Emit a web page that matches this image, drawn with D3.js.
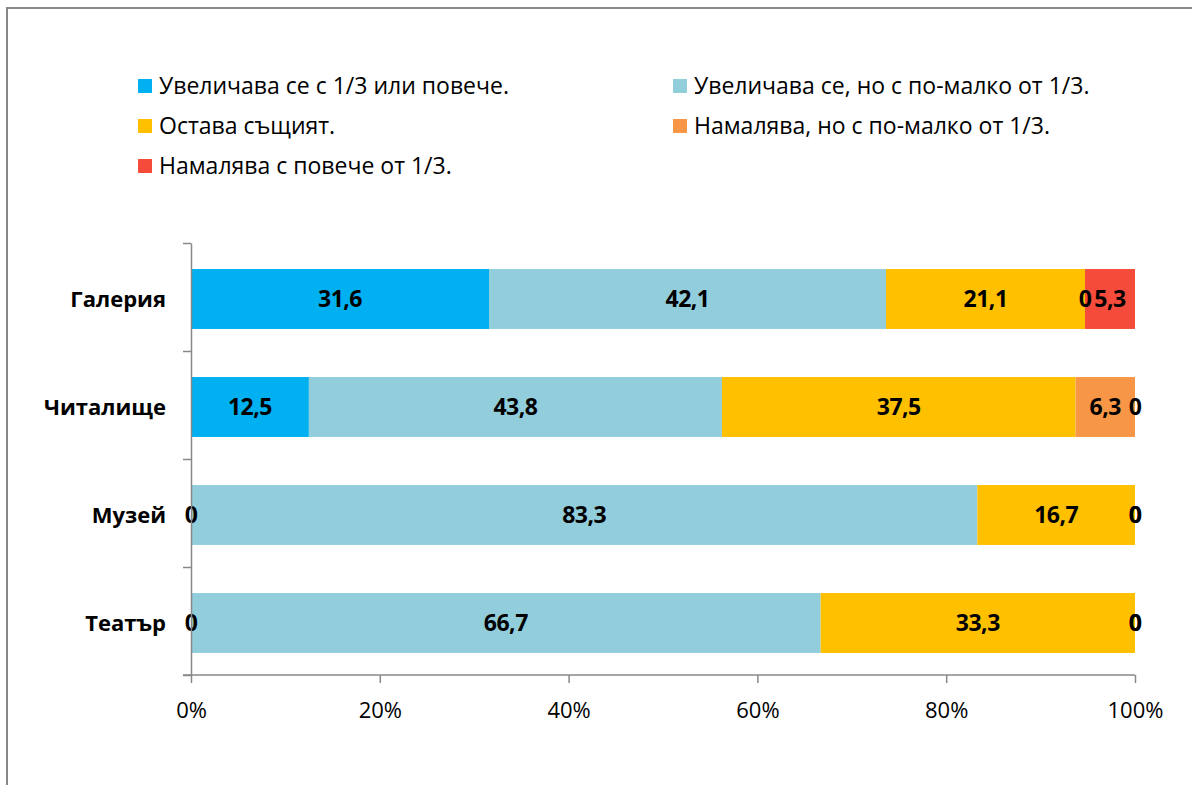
<!DOCTYPE html>
<html>
<head>
<meta charset="utf-8">
<script src="https://cdn.jsdelivr.net/npm/d3@7"></script>
<style>
  body { margin: 0; background: #fff; }
  svg { display: block; font-family: "Open Sans", sans-serif; }
  .axis path, .axis line { stroke: #888; stroke-width: 1.5; }
</style>
</head>
<body>
<svg id="chart" width="1192" height="785"></svg>
<script>
const categories = ["Галерия", "Читалище", "Музей", "Театър"];
const seriesNames = [
  "Увеличава се с 1/3 или повече.",
  "Увеличава се, но с по-малко от 1/3.",
  "Остава същият.",
  "Намалява, но с по-малко от 1/3.",
  "Намалява с повече от 1/3."
];
const seriesColors = ["#00b0f0", "#92cddc", "#ffc000", "#f79646", "#f44b3b"];
// values per series, in category order
const increaseBig = [31.6, 12.5, 0, 0];
const increaseSmall = [42.1, 43.8, 83.3, 66.7];
const same = [21.1, 37.5, 16.7, 33.3];
const decreaseSmall = [0, 6.3, 0, 0];
const decreaseBig = [5.3, 0, 0, 0];
const xTicks = [0, 0.2, 0.4, 0.6, 0.8, 1];

const seriesValues = [increaseBig, increaseSmall, same, decreaseSmall, decreaseBig];
const keys = seriesNames.map((d, i) => "s" + i);
const table = categories.map((c, j) => {
  const row = { category: c };
  keys.forEach((k, i) => (row[k] = seriesValues[i][j]));
  return row;
});

const svg = d3.select("#chart");

// outer frame (cropped at right and bottom)
svg.append("rect")
  .attr("x", 7).attr("y", 8)
  .attr("width", 1200).attr("height", 800)
  .attr("fill", "none").attr("stroke", "#888").attr("stroke-width", 2);

const x = d3.scaleLinear().domain([0, 1]).range([191, 1135]);
const y = d3.scaleBand().domain(categories).range([245, 677]).paddingInner(0.445).paddingOuter(0.2225);
const yEdge = d3.scaleLinear().domain([0, categories.length]).range([243, 675]);

const stacked = d3.stack().keys(keys).offset(d3.stackOffsetExpand)(table);

// legend
const legend = svg.append("g").attr("class", "legend");
const legendPos = [
  [138, 79], [673, 79],
  [138, 119], [673, 119],
  [138, 159]
];
seriesNames.forEach((name, i) => {
  const g = legend.append("g").attr("transform", `translate(${legendPos[i][0]},${legendPos[i][1]})`);
  g.append("rect").attr("width", 14).attr("height", 14).attr("fill", seriesColors[i]);
  g.append("text")
    .attr("x", 21).attr("y", 7).attr("dy", "0.36em")
    .attr("font-size", 23).attr("fill", "#000")
    .text(name);
});

// bars
const layers = svg.append("g").selectAll("g")
  .data(stacked)
  .join("g")
  .attr("fill", (d, i) => seriesColors[i]);

layers.selectAll("rect")
  .data(d => d)
  .join("rect")
  .attr("x", d => x(d[0]))
  .attr("y", d => y(d.data.category))
  .attr("width", d => x(d[1]) - x(d[0]))
  .attr("height", y.bandwidth());

// data labels
const labelFmt = v => String(v).replace(".", ",");
stacked.forEach((layer, i) => {
  svg.append("g").selectAll("text")
    .data(layer)
    .join("text")
    .attr("x", d => x((d[0] + d[1]) / 2))
    .attr("y", d => y(d.data.category) + y.bandwidth() / 2)
    .attr("dy", "0.36em")
    .attr("text-anchor", "middle")
    .attr("font-size", 23)
    .attr("font-weight", "bold")
    .attr("letter-spacing", -0.5)
    .attr("fill", "#000")
    .text(d => labelFmt(d.data[layer.key]));
});

// y axis with ticks at band edges
svg.append("g")
  .attr("class", "axis")
  .attr("transform", "translate(191,0)")
  .call(d3.axisLeft(yEdge).ticks(categories.length).tickSize(8).tickSizeOuter(0).tickFormat(""));

svg.append("g").selectAll("text")
  .data(categories)
  .join("text")
  .attr("x", 166)
  .attr("y", d => y(d) + y.bandwidth() / 2)
  .attr("dy", "0.36em")
  .attr("text-anchor", "end")
  .attr("font-size", 22)
  .attr("font-weight", "bold")
  .attr("fill", "#000")
  .text(d => d);

// x axis
const xAxis = svg.append("g")
  .attr("class", "axis")
  .attr("transform", "translate(0,675)")
  .call(d3.axisBottom(x).tickValues(xTicks).tickFormat(d3.format(".0%")).tickSize(8).tickSizeOuter(0).tickPadding(19));
xAxis.select(".domain").attr("d", "M183,0H1135");
xAxis.selectAll("text").attr("font-size", 22).attr("fill", "#000").attr("font-family", "Open Sans, sans-serif");
</script>
</body>
</html>
